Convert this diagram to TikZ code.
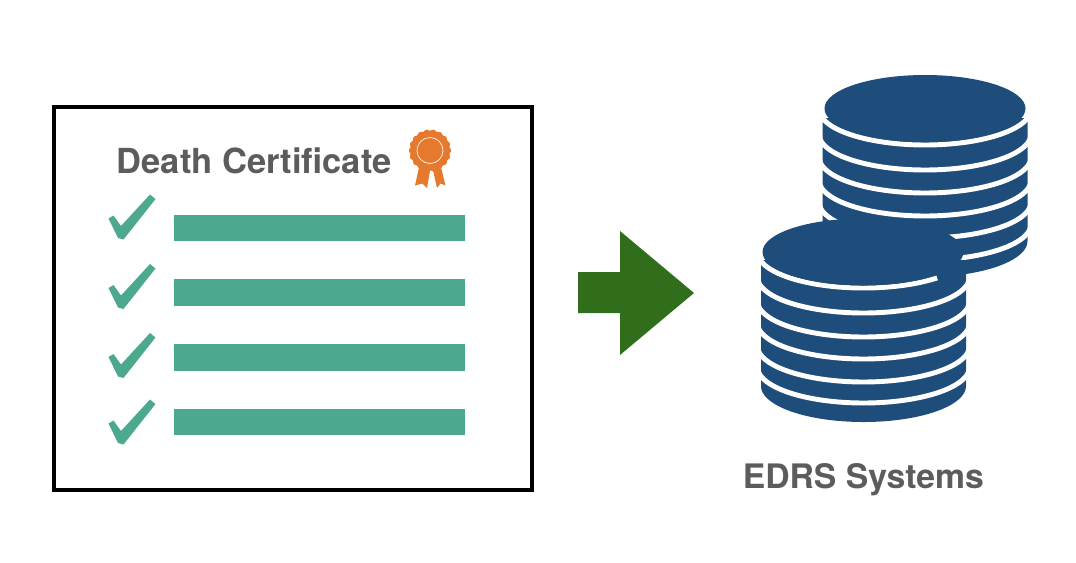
\documentclass[tikz,border=0pt]{standalone}
\usepackage{fontspec}
\setmainfont{TeX Gyre Heros}
\definecolor{teal1}{HTML}{4CA88E}
\definecolor{navy1}{HTML}{1E4D7C}
\definecolor{orange1}{HTML}{E5792D}
\definecolor{green1}{HTML}{316E1C}
\definecolor{gray1}{HTML}{5C5C5C}
\newcommand{\stackbody}[4]{% cx, top, bottom-centre, bottom-centre ry
  \fill[navy1] ({#1-102.5},#2) -- plot[domain=180:360,samples=80] ({#1+102.5*cos(\x)},{#3-#4*sin(\x)}) -- ({#1+102.5},#2) -- cycle;}
\newcommand{\stackarc}[3]{% cx, bottom y of the arc, end angle
  \draw[bandline] plot[domain=180:#3,samples=80] ({#1+106*cos(\x)},{#2-36-36*sin(\x)});}
\newcommand{\tickmark}[1]{%
  \fill[teal1,shift={(0,#1)}] (108.5,218.5) -- (113.5,215.5) -- (121,226) -- (150,194.5) -- (155.5,199) -- (123.5,239.5) -- (118,238) -- cycle;}
\tikzset{
  bandline/.style={draw=white,line width=3.7pt},
  barbox/.style={fill=teal1,draw=none,minimum width=218.25pt,minimum height=19.8pt,inner sep=0pt,outer sep=0pt},
  title/.style={text=gray1,inner sep=0pt,anchor=base west}
}
\begin{document}
\begin{tikzpicture}[x=0.75pt,y=-0.75pt]
\useasboundingbox (0,0) rectangle (1076,562);
% frame
\draw[black,line width=3pt] (54,107) rectangle (532,490);
% title and rosette
\node[title,font=\bfseries\fontsize{25.9}{28}\selectfont] (cert) at (116.5,173) {Death Certificate};
\fill[orange1] (420,163) -- (415,185.5) -- (422.5,183.5) -- (427,188) -- (430.5,168) -- cycle;
\fill[orange1] (432.5,168) -- (437,188) -- (440.5,183.5) -- (445.5,185.5) -- (440,163) -- cycle;
\fill[orange1] plot[domain=0:360,samples=300,smooth] ({430+(20.5+0.6*cos(18*\x))*cos(\x)},{150.5+(20.5+0.6*cos(18*\x))*sin(\x)}) -- cycle;
\draw[white!85!orange1,line width=0.6pt] (430,150.5) circle [radius=13];
% ticks and bars
\tickmark{0}\tickmark{69.5}\tickmark{138.5}\tickmark{205}
\node[barbox] (bar1) at (319.5,228) {};
\node[barbox] (bar2) at (319.5,292.5) {};
\node[barbox] (bar3) at (319.5,357.5) {};
\node[barbox] (bar4) at (319.5,422) {};
% arrow
\fill[green1] (578,272) -- (620,272) -- (620,231) -- (694,293) -- (620,355) -- (620,313) -- (578,313) -- cycle;
% upper stack
\stackbody{925}{118}{241}{36}
\foreach \b in {145,170,193,216,238,260} {\stackarc{925}{\b}{360}}
\fill[navy1] (925,108.5) ellipse [x radius=100.5,y radius=33.5];
% lower stack
\stackbody{863.5}{260}{386}{36}
\stackarc{863.5}{288}{314}
\foreach \b in {313,337,359,382,403} {\stackarc{863.5}{\b}{360}}
\fill[navy1] (863,252) ellipse [x radius=100.5,y radius=33.5];
% label
\node[title,font=\bfseries\fontsize{25.3}{28}\selectfont] (edrs) at (742.5,488.5) {EDRS Systems};
\end{tikzpicture}
\end{document}
